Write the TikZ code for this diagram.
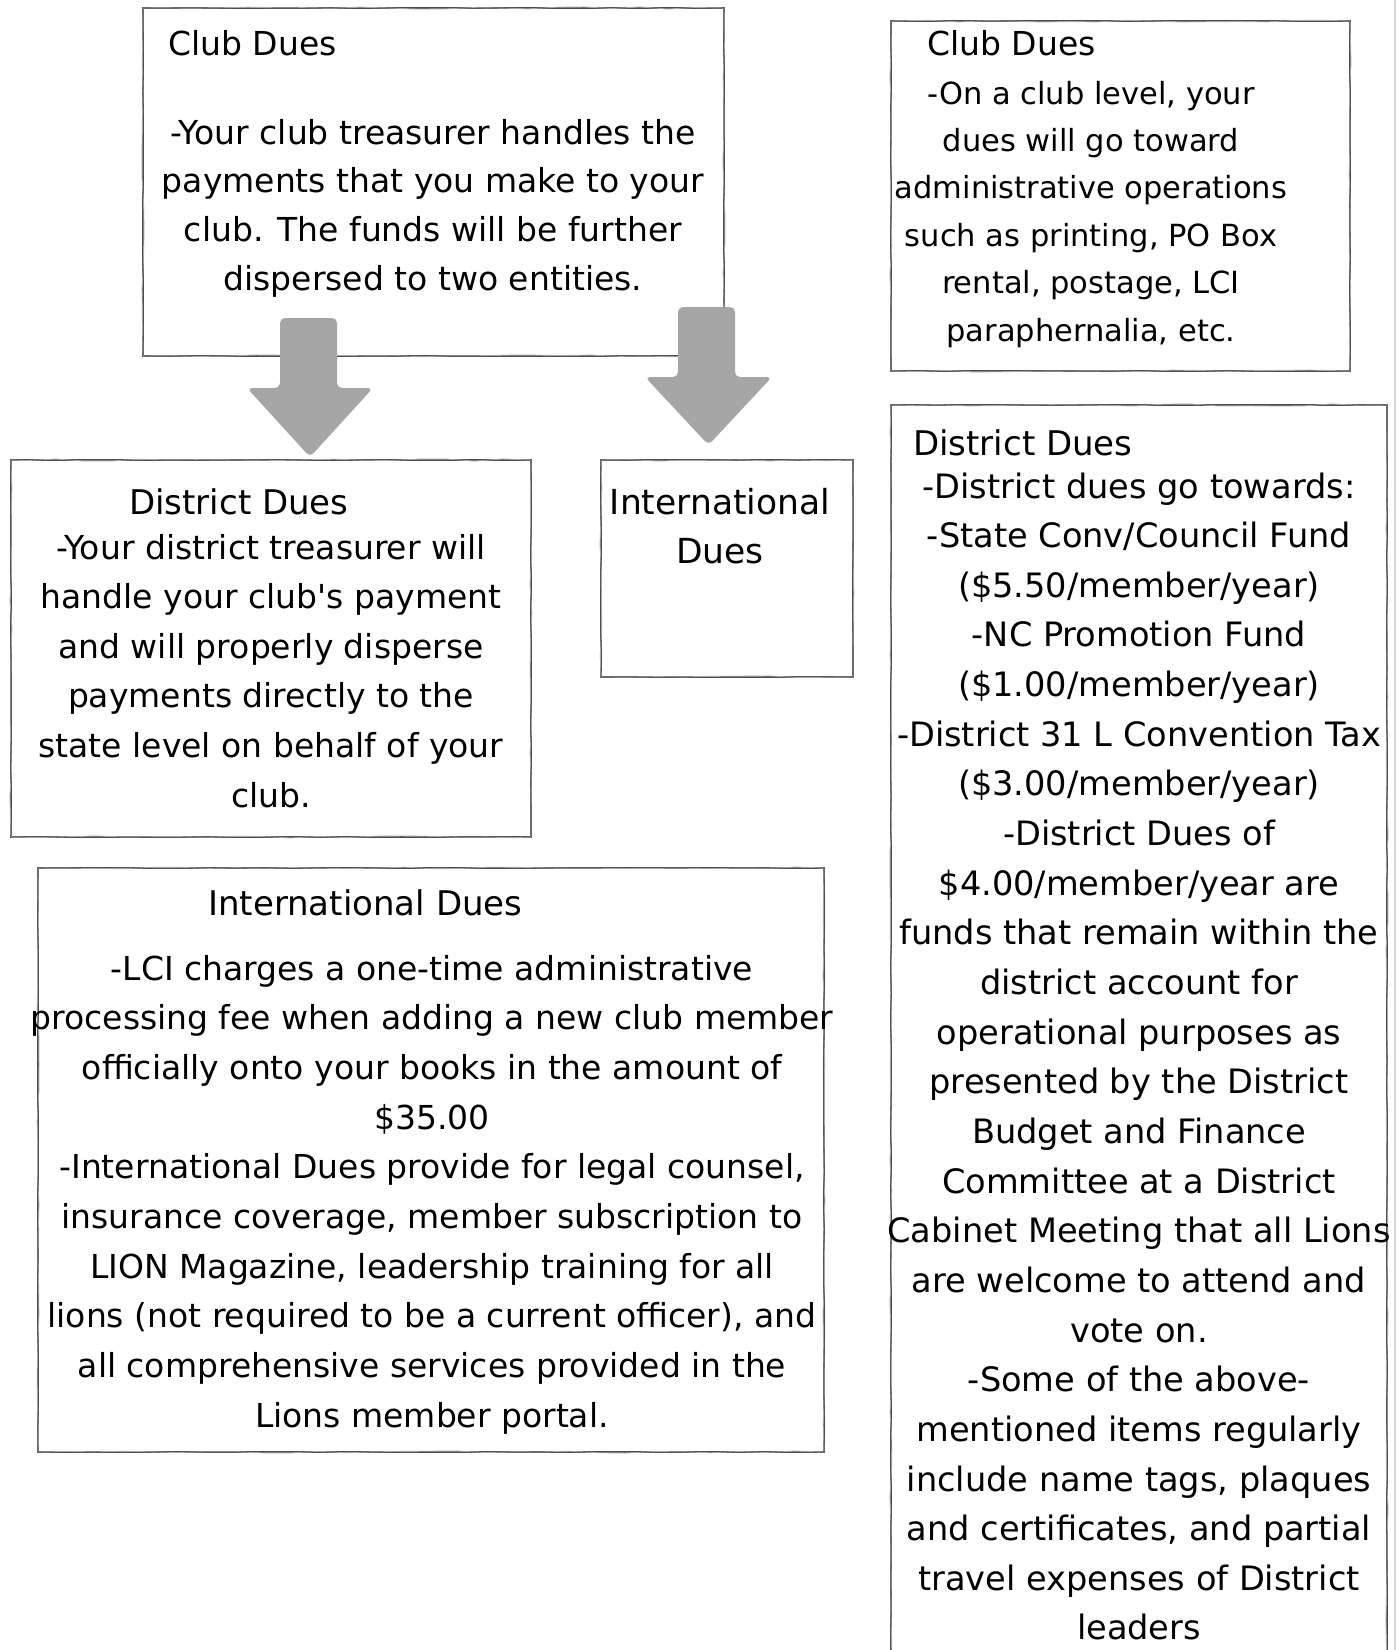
\documentclass[tikz,border=0pt]{standalone}
\usepackage{fontspec}
\newfontfamily\dfont{DejaVu Sans}
\usetikzlibrary{decorations.pathmorphing}
\definecolor{arrowgray}{HTML}{A6A6A6}
\begin{document}
\begin{tikzpicture}[x=1pt,y=-1pt,
  sketchbox/.style={draw=black!70, line width=2pt, inner sep=0pt, fill=white,
    postaction={draw=black!35, line width=0.9pt, decorate,
      decoration={random steps, segment length=28pt, amplitude=1pt}}},
  txt/.style={font={\dfont\fontsize{33}{40}\selectfont}, inner sep=0pt, anchor=base, text=black},
  txtsmall/.style={txt, font={\dfont\fontsize{30.5}{40}\selectfont}},
  txtbig/.style={txt, font={\dfont\fontsize{33.6}{40}\selectfont}},
  head/.style={txt, anchor=base west},
  headbig/.style={txtbig, anchor=base west, font={\dfont\fontsize{34}{40}\selectfont}},
  blockarrow/.style={fill=arrowgray, draw=none, rounded corners=5pt}]
\pgfmathsetseed{7}
\useasboundingbox (0,0) rectangle (1398,1650);
\fill[white] (0,0) rectangle (1398,1650);
\draw[black!15, line width=1.2pt] (1395,0) -- (1395,1650);

% boxes
\node[sketchbox, minimum width=581pt, minimum height=348pt] (b1) at (433.5,182) {};
\node[sketchbox, minimum width=459pt, minimum height=350pt] (cr) at (1120.5,196) {};
\node[sketchbox, minimum width=520pt, minimum height=377pt] (dl) at (271,648.5) {};
\node[sketchbox, minimum width=252pt, minimum height=217pt] (is) at (727,568.5) {};
\node[sketchbox, minimum width=786pt, minimum height=584pt] (ib) at (431,1160) {};
\node[sketchbox, minimum width=496pt, minimum height=1300pt] (dr) at (1139,1055) {};

% arrows
\coordinate (a1tip) at (310,457);
\coordinate (a2tip) at (708.5,445);
\fill[blockarrow] (280,318) -- (337,318) -- (337,388) -- (373,388) -- (a1tip) -- (247,388) -- (280,388) -- cycle;
\fill[blockarrow] (678,307) -- (735,307) -- (735,377) -- (772,377) -- (a2tip) -- (645,377) -- (678,377) -- cycle;

% Club dues (left)
\node[head] (b1h) at (168,55) {Club Dues};
\foreach \t [count=\i from 0] in {{-Your club treasurer handles the},{payments that you make to your},{club. The funds will be further},{dispersed to two entities.}}
  \node[txt, name=b1l\i] at (433,{144+48.8*\i}) {\t};

% Club dues (right)
\node[head] (crh) at (927,55) {Club Dues};
\foreach \t [count=\i from 0] in {{-On a club level, your},{dues will go toward},{administrative operations},{such as printing, PO Box},{rental, postage, LCI},{paraphernalia, etc.}}
  \node[txtsmall, name=crl\i] at (1091,{104+47.4*\i}) {\t};

% District dues (left)
\node[headbig] (dlh) at (129,514) {District Dues};
\foreach \t [count=\i from 0] in {{-Your district treasurer will},{handle your club's payment},{and will properly disperse},{payments directly to the},{state level on behalf of your},{club.}}
  \node[txt, name=dll\i] at (271,{559+49.6*\i}) {\t};

% International (small)
\node[txtbig, font={\dfont\fontsize{34.5}{40}\selectfont}] (is1) at (720,514) {International};
\node[txtbig, font={\dfont\fontsize{34.5}{40}\selectfont}] (is2) at (720,563) {Dues};

% International (big)
\node[headbig] (ibh) at (208,915) {International Dues};
\foreach \t [count=\i from 0] in {{-LCI charges a one-time administrative},{processing fee when adding a new club member},{officially onto your books in the amount of},{\$35.00},{-International Dues provide for legal counsel,},{insurance coverage, member subscription to},{LION Magazine, leadership training for all},{lions (not required to be a current officer), and},{all comprehensive services provided in the},{Lions member portal.}}
  \node[txt, name=ibl\i] at (432,{980+49.7*\i}) {\t};

% District dues (right)
\node[headbig] (drh) at (913,455) {District Dues};
\foreach \t [count=\i from 0] in {{-District dues go towards:},{-State Conv/Council Fund},{(\$5.50/member/year)},{-NC Promotion Fund},{(\$1.00/member/year)},{-District 31 L Convention Tax},{(\$3.00/member/year)},{-District Dues of},{\$4.00/member/year are},{funds that remain within the},{district account for},{operational purposes as},{presented by the District},{Budget and Finance},{Committee at a District},{Cabinet Meeting that all Lions},{are welcome to attend and},{vote on.},{-Some of the above-},{mentioned items regularly},{include name tags, plaques},{and certificates, and partial},{travel expenses of District},{leaders}}
  \node[txtbig, name=drl\i] at (1139,{498+49.65*\i}) {\t};
\end{tikzpicture}
\end{document}
